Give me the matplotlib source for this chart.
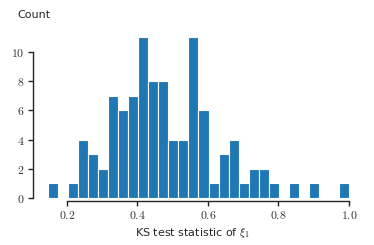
#!/usr/bin/env python3
"""Histogram of KS test statistics."""

import matplotlib
matplotlib.use("Agg")
import matplotlib.pyplot as plt
import numpy as np
from matplotlib.ticker import FuncFormatter

# histogram counts, 30 equal bins between first_edge and last_edge
first_edge = 0.146
last_edge = 1.0
counts = [1, 0, 1, 4, 3, 2, 7, 6, 7, 11,
          8, 8, 4, 4, 11, 6, 1, 3, 4, 1,
          2, 2, 1, 0, 1, 0, 1, 0, 0, 1]
x_ticks = [0.2, 0.4, 0.6, 0.8, 1.0]
y_ticks = [0, 2, 4, 6, 8, 10]

plt.rcParams["mathtext.fontset"] = "cm"
plt.rcParams["font.family"] = "DejaVu Sans"

edges = np.linspace(first_edge, last_edge, len(counts) + 1)
centers = (edges[:-1] + edges[1:]) / 2

fig = plt.figure(figsize=(3.74, 2.45), dpi=100)
ax = fig.add_axes([0.0882, 0.1796, 0.8543, 0.6854])
ax.hist(centers, bins=edges, weights=counts, color="#1f77b4",
        edgecolor="white", linewidth=0.8)

ax.set_xlim(0.1035, 1.01)
ax.set_ylim(-0.2, 11.3)
ax.set_xticks(x_ticks)
ax.set_yticks(y_ticks)
ax.xaxis.set_major_formatter(FuncFormatter(lambda v, p: f"${v:.1f}$"))
ax.yaxis.set_major_formatter(FuncFormatter(lambda v, p: f"${v:g}$"))
ax.tick_params(labelsize=8.5, length=3.5, width=1, pad=2.5,
               color="#262626", labelcolor="#333333")

for side in ("top", "right"):
    ax.spines[side].set_visible(False)
for side in ("left", "bottom"):
    ax.spines[side].set_linewidth(1)
    ax.spines[side].set_color("#262626")
ax.spines["left"].set_bounds(0, 10)
ax.spines["bottom"].set_bounds(0.2, 1.0)

ax.set_xlabel(r"KS test statistic of $\xi_1$", fontsize=8, color="#262626", labelpad=3)
fig.text(17 / 374, 1 - 15 / 245, "Count", fontsize=8, color="#262626", va="center")

fig.savefig("out.png", dpi=100)
